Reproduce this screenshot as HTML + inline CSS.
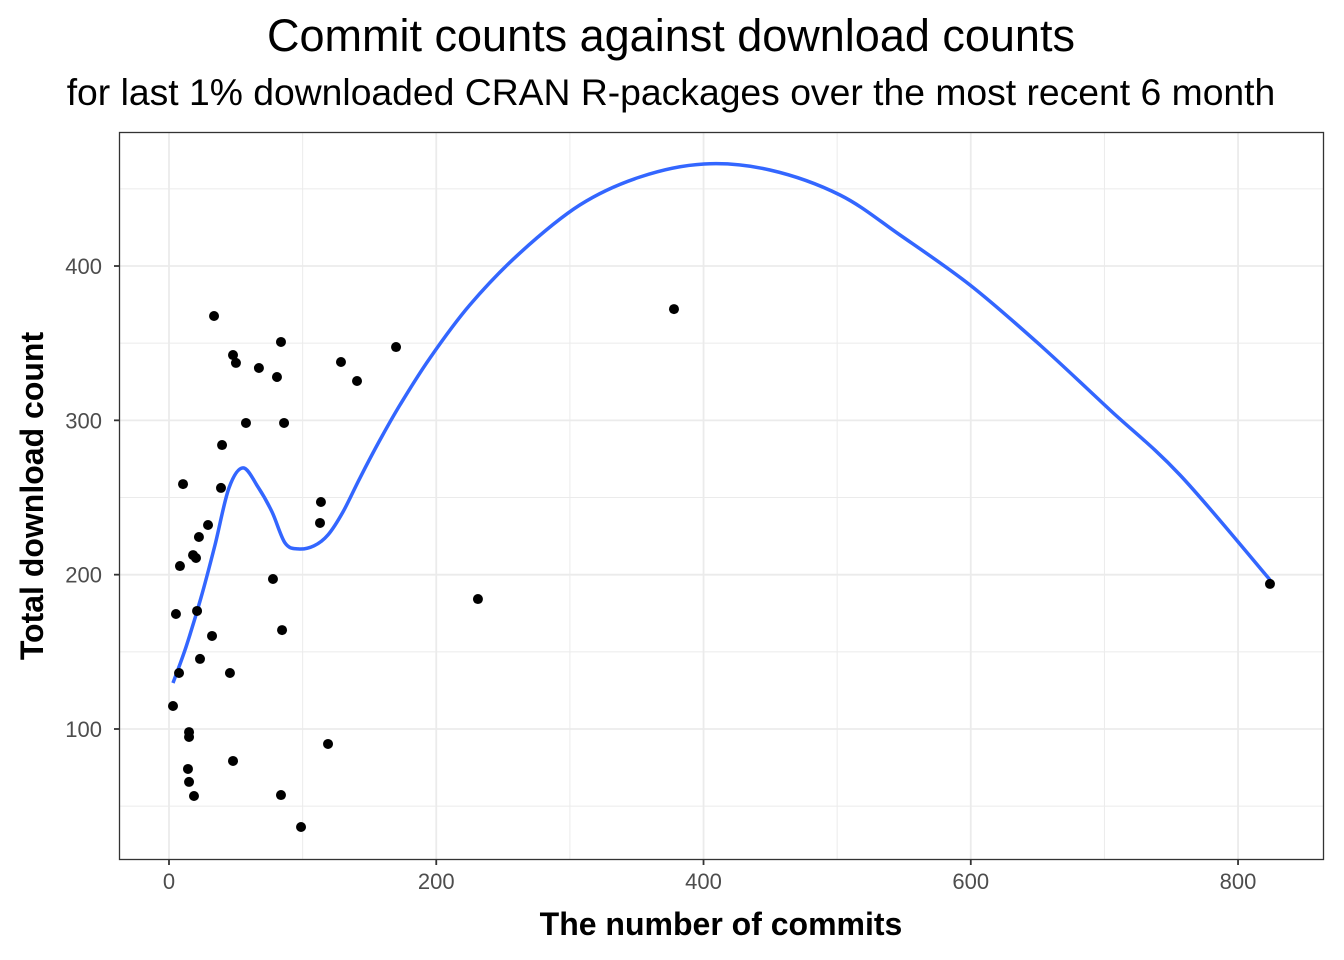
<!DOCTYPE html>
<html><head><meta charset="utf-8"><style>
body{margin:0;background:#fff;}
svg{display:block;font-family:"Liberation Sans",Arial,sans-serif;}
</style></head><body>
<svg id="chart" width="1344" height="960">
<text x="671" y="51" text-anchor="middle" font-size="45" fill="#000">Commit counts against download counts</text>
<text x="671" y="105" text-anchor="middle" font-size="37.3" fill="#000">for last 1% downloaded CRAN R-packages over the most recent 6 month</text>
<g id="grid"></g>
<g id="curve"></g>
<g id="points"></g>
<rect x="119.5" y="132.5" width="1204" height="727" fill="none" stroke="#333" stroke-width="1.3"/>
<g id="axes"></g>
<text x="721" y="935" text-anchor="middle" font-size="32" font-weight="bold" fill="#000">The number of commits</text>
<text transform="translate(43,496) rotate(-90)" text-anchor="middle" font-size="32" font-weight="bold" fill="#000">Total download count</text>
</svg>
<script>
const commits=[33.7,83.8,47.9,50.1,67.3,80.8,128.7,140.7,169.9,377.9,57.6,86.1,39.7,10.5,38.9,113.7,113,29.2,22.4,18,20.2,8.2,77.8,231.2,823.9,21,5.2,32.2,84.6,23.2,45.6,7.5,3,15,15,119,47.9,14.2,15,18.7,83.8,98.8];
const downloads=[367.6,350.8,342.3,337.2,333.9,328.1,337.8,325.5,347.5,372.1,298.3,298.3,284,258.7,256.2,247.1,233.5,232.2,224.4,212.7,210.8,205.6,197.2,184.2,194,176.5,174.5,160.3,164.1,145.4,136.3,136.3,114.9,98,94.8,90.3,79.3,74.1,65.7,56.6,57.2,36.5];
const smoothX=[3,12.7,23.9,34.4,44.9,55.4,66.6,77.1,86.8,96.5,108.5,119,130.2,142.9,157.9,172.9,195.3,225.2,262.7,307.6,352.5,400.4,449.7,502.1,547,599.4,651.8,704.2,756.6,823.9];
const smoothY=[129.8,153.1,184.9,219.2,256.2,269.2,256.8,240.7,220.6,216.7,218.7,225.8,240.7,262.7,287.3,310,340.4,374.8,408.5,439.6,457.7,466.1,462.2,446,420.1,387.7,348.8,306.7,264.6,196.6];
const xTicks=[0,200,400,600,800];
const xMinor=[100,300,500,700];
const yTicks=[100,200,300,400];
const yMinor=[50,150,250,350,450];
const X=v=>169+v*1.3363;
const Y=v=>729-(v-100)*1.5433;
const NS="http://www.w3.org/2000/svg";
function mk(tag,attrs,parent){const e=document.createElementNS(NS,tag);for(const k in attrs)e.setAttribute(k,attrs[k]);document.getElementById(parent).appendChild(e);return e;}
xMinor.forEach(v=>{const l=mk('line',{x1:X(v),x2:X(v),y1:133,y2:859,stroke:'#ebebeb','stroke-width':1},'grid');

});
yMinor.forEach(v=>{const l=mk('line',{x1:120,x2:1323,y1:Y(v),y2:Y(v),stroke:'#ebebeb','stroke-width':1},'grid');

});
xTicks.forEach(v=>{const l=mk('line',{x1:X(v),x2:X(v),y1:133,y2:859,stroke:'#ebebeb','stroke-width':1.8},'grid');


const t=mk('line',{x1:X(v),x2:X(v),y1:860,y2:865,stroke:'#333','stroke-width':1.8},'axes');


const s=mk('text',{x:X(v),y:889,'text-anchor':'middle','font-size':22,fill:'#4d4d4d'},'axes');s.textContent=v;

});
yTicks.forEach(v=>{const l=mk('line',{x1:120,x2:1323,y1:Y(v),y2:Y(v),stroke:'#ebebeb','stroke-width':1.8},'grid');


const t=mk('line',{x1:114,x2:119,y1:Y(v),y2:Y(v),stroke:'#333','stroke-width':1.8},'axes');


const s=mk('text',{x:102,y:Y(v)+8,'text-anchor':'end','font-size':22,fill:'#4d4d4d'},'axes');s.textContent=v;

});
const P=smoothX.map((v,i)=>[X(v),Y(smoothY[i])]);
let d='M'+P[0][0].toFixed(1)+','+P[0][1].toFixed(1);
for(let i=0;i<P.length-1;i++){const p0=P[i-1]||P[i],p1=P[i],p2=P[i+1],p3=P[i+2]||P[i+1];
const c1=[p1[0]+(p2[0]-p0[0])/6,p1[1]+(p2[1]-p0[1])/6],c2=[p2[0]-(p3[0]-p1[0])/6,p2[1]-(p3[1]-p1[1])/6];
d+='C'+c1[0].toFixed(1)+','+c1[1].toFixed(1)+' '+c2[0].toFixed(1)+','+c2[1].toFixed(1)+' '+p2[0].toFixed(1)+','+p2[1].toFixed(1);}
const p=mk('path',{d:d,fill:'none',stroke:'#3366ff','stroke-width':3.5,'stroke-linejoin':'round'},'curve');


commits.forEach((v,i)=>{const c=mk('circle',{cx:X(v),cy:Y(downloads[i]),r:5,fill:'#000'},'points');

});
</script>
</body></html>
